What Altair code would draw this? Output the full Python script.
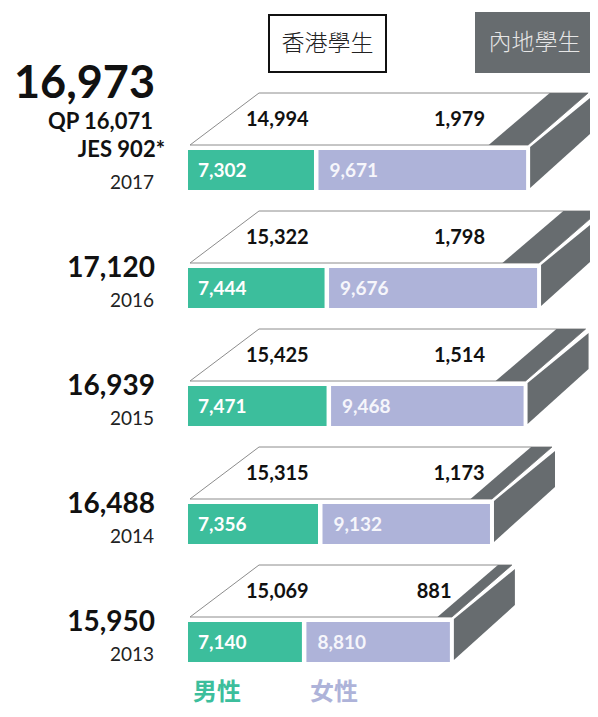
import altair as alt
import pandas as pd

# ---------------- data ----------------
years = [2017, 2016, 2015, 2014, 2013]
total = [16973, 17120, 16939, 16488, 15950]
male = [7302, 7444, 7471, 7356, 7140]
female = [9671, 9676, 9468, 9132, 8810]
hk = [14994, 15322, 15425, 15315, 15069]
mainland = [1979, 1798, 1514, 1173, 881]
extra_2017 = ["QP 16,071", "JES 902*"]
legend_top = ["香港學生", "內地學生"]
legend_bottom = ["男性", "女性"]

# ---------------- style / layout ----------------
W, H = 582, 701
A = 0.0745            # px per student on the front face
BASE_M = 5611         # scale origin of male segment
BASE_F = 6884         # scale origin of female segment
X0 = BASE_M - 180 / A
XDOM = [X0, X0 + W / A]
ROW0, STEP = 142, 118

TEAL = "#3cbe9c"
LAV = "#aeb3d9"
DARK = "#676c6f"
FONT = "Lato"
CJK = "Noto Sans CJK TC"


def u(px):
    return px / A


top_rows, side_rows, rows = [], [], []
for i, yr in enumerate(years):
    yF = ROW0 + STEP * i
    f_start = male[i] + u(4.5)
    f_end = f_start + (female[i] - BASE_F)
    Lb, Lt = BASE_M + u(2), BASE_M + u(71)
    Rb, Rt = f_end + u(2), f_end + u(62)
    frac = hk[i] / total[i]
    Db = Lb + (Rb - Lb) * frac
    Dt = Lt + (Rt - Lt) * frac
    top_rows.append(dict(year=yr, y=yF - 5, xl=Lb, xr=Rb, xd=Db))
    top_rows.append(dict(year=yr, y=yF - 57, xl=Lt, xr=Rt, xd=Dt))
    side_rows.append(dict(year=yr, x=f_end + u(4), y=yF - 3, y2=yF + 38))
    side_rows.append(dict(year=yr, x=f_end + u(65), y=yF - 53, y2=yF - 17))
    d_at = Db + (Dt - Db) * 19 / 52
    rows.append(dict(
        year=yr, total=total[i], male=male[i], female=female[i],
        hk=hk[i], mainland=mainland[i],
        m0=BASE_M, m1=male[i], f0=f_start, f1=f_end,
        yF=yF, yB=yF + 40,
        mlab=BASE_M + u(10), flab=f_start + u(11),
        hklab=BASE_M + u(58), mllab=min(BASE_M + u(297), d_at - u(8)),
        y_front_lab=yF + 27, y_top_lab=yF - 24,
        y_total=yF + 9, y_year=yF + 39,
        big=(i == 0),
    ))

top_df = pd.DataFrame(top_rows)
side_df = pd.DataFrame(side_rows)
df = pd.DataFrame(rows)

xs = alt.Scale(domain=XDOM)
ys = alt.Scale(domain=[0, H], reverse=True)


def X(f):
    return alt.X(f, type="quantitative", scale=xs, axis=None, stack=None)


def Y(f):
    return alt.Y(f, type="quantitative", scale=ys, axis=None, stack=None)


top_white = alt.Chart(top_df).mark_area(
    orient="horizontal", fill="white", stroke="#8c8c8c", strokeWidth=1
).encode(y=Y("y"), x=X("xl"), x2="xr", detail="year:N")

top_dark = alt.Chart(top_df).mark_area(
    orient="horizontal", fill=DARK
).encode(y=Y("y"), x=X("xd"), x2="xr", detail="year:N")

side = alt.Chart(side_df).mark_area(
    orient="vertical", fill=DARK
).encode(x=X("x"), y=Y("y"), y2="y2", detail="year:N")

base = alt.Chart(df)
male_bar = base.mark_rect(fill=TEAL).encode(x=X("m0"), x2="m1", y=Y("yF"), y2="yB")
female_bar = base.mark_rect(fill=LAV).encode(x=X("f0"), x2="f1", y=Y("yF"), y2="yB")

male_txt = base.mark_text(align="left", baseline="alphabetic", font=FONT,
                          fontSize=19, fontWeight="bold", color="white").encode(
    x=X("mlab"), y=Y("y_front_lab"), text=alt.Text("male:Q", format=","))
female_txt = base.mark_text(align="left", baseline="alphabetic", font=FONT,
                            fontSize=19, fontWeight="bold", color="#f6f6fb").encode(
    x=X("flab"), y=Y("y_front_lab"), text=alt.Text("female:Q", format=","))
hk_txt = base.mark_text(align="left", baseline="alphabetic", font=FONT,
                        fontSize=20, fontWeight="bold", color="#111").encode(
    x=X("hklab"), y=Y("y_top_lab"), text=alt.Text("hk:Q", format=","))
ml_txt = base.mark_text(align="right", baseline="alphabetic", font=FONT,
                        fontSize=20, fontWeight="bold", color="#111").encode(
    x=X("mllab"), y=Y("y_top_lab"), text=alt.Text("mainland:Q", format=","))

total_txt = base.transform_filter("!datum.big").mark_text(
    align="right", baseline="alphabetic", font=FONT, fontSize=28,
    fontWeight="bold", color="#111").encode(
    x=alt.value(147), y=Y("y_total"), text=alt.Text("total:Q", format=","))
big_txt = base.transform_filter("datum.big").transform_calculate(
    yy="datum.yF - 52").mark_text(
    align="right", baseline="alphabetic", font=FONT, fontSize=45,
    fontWeight="bold", color="#111").encode(
    x=alt.value(147), y=Y("yy:Q"), text=alt.Text("total:Q", format=","))
year_txt = base.mark_text(align="right", baseline="alphabetic", font=FONT,
                          fontSize=19, color="#222").encode(
    x=alt.value(146), y=Y("y_year"), text="year:N")

extra_df = pd.DataFrame({"label": extra_2017, "y": [ROW0 - 21, ROW0 + 7],
                         "xr": [145, 157]})
extra_txt = alt.Chart(extra_df).mark_text(
    align="right", baseline="alphabetic", font=FONT, fontSize=22,
    fontWeight="bold", color="#111").encode(
    x=alt.X("xr:Q", scale=None, axis=None), y=Y("y"), text="label:N")

# top legend boxes
leg_df = pd.DataFrame({"label": legend_top,
                       "x0": [261, 468], "x1": [378, 585],
                       "y0": [7, 5], "y1": [64, 64],
                       "fill": ["white", DARK], "stroke": ["#111", DARK],
                       "tc": ["#222", "#e6e6e6"]})
leg_box = alt.Chart(leg_df).mark_rect(strokeWidth=2).encode(
    x=alt.X("x0:Q", scale=None, axis=None), x2="x1:Q",
    y=alt.Y("y0:Q", scale=None, axis=None), y2="y1:Q",
    fill=alt.Fill("fill:N", scale=None), stroke=alt.Stroke("stroke:N", scale=None))
leg_txt = alt.Chart(leg_df).transform_calculate(
    xc="(datum.x0 + datum.x1) / 2", yc="(datum.y0 + datum.y1) / 2").mark_text(
    align="center", baseline="middle", font=CJK, fontSize=23, fontWeight=300).encode(
    x=alt.X("xc:Q", scale=None, axis=None), y=alt.Y("yc:Q", scale=None, axis=None),
    text="label:N", color=alt.Color("tc:N", scale=None))

# bottom legend
lb_df = pd.DataFrame({"label": legend_bottom, "x": [185, 302], "c": [TEAL, LAV]})
lb_txt = alt.Chart(lb_df).mark_text(
    align="left", baseline="alphabetic", font=CJK, fontSize=24, fontWeight="bold").encode(
    x=alt.X("x:Q", scale=None, axis=None), y=alt.value(692),
    text="label:N", color=alt.Color("c:N", scale=None))

chart = alt.layer(
    top_white, top_dark, side, male_bar, female_bar,
    male_txt, female_txt, hk_txt, ml_txt,
    total_txt, big_txt, year_txt, extra_txt,
    leg_box, leg_txt, lb_txt,
).properties(
    width=W, height=H, padding=0,
    autosize=alt.AutoSizeParams(type="none"),
).configure_view(stroke=None)

chart.save("out.html", embed_options={"renderer": "svg", "actions": False})
